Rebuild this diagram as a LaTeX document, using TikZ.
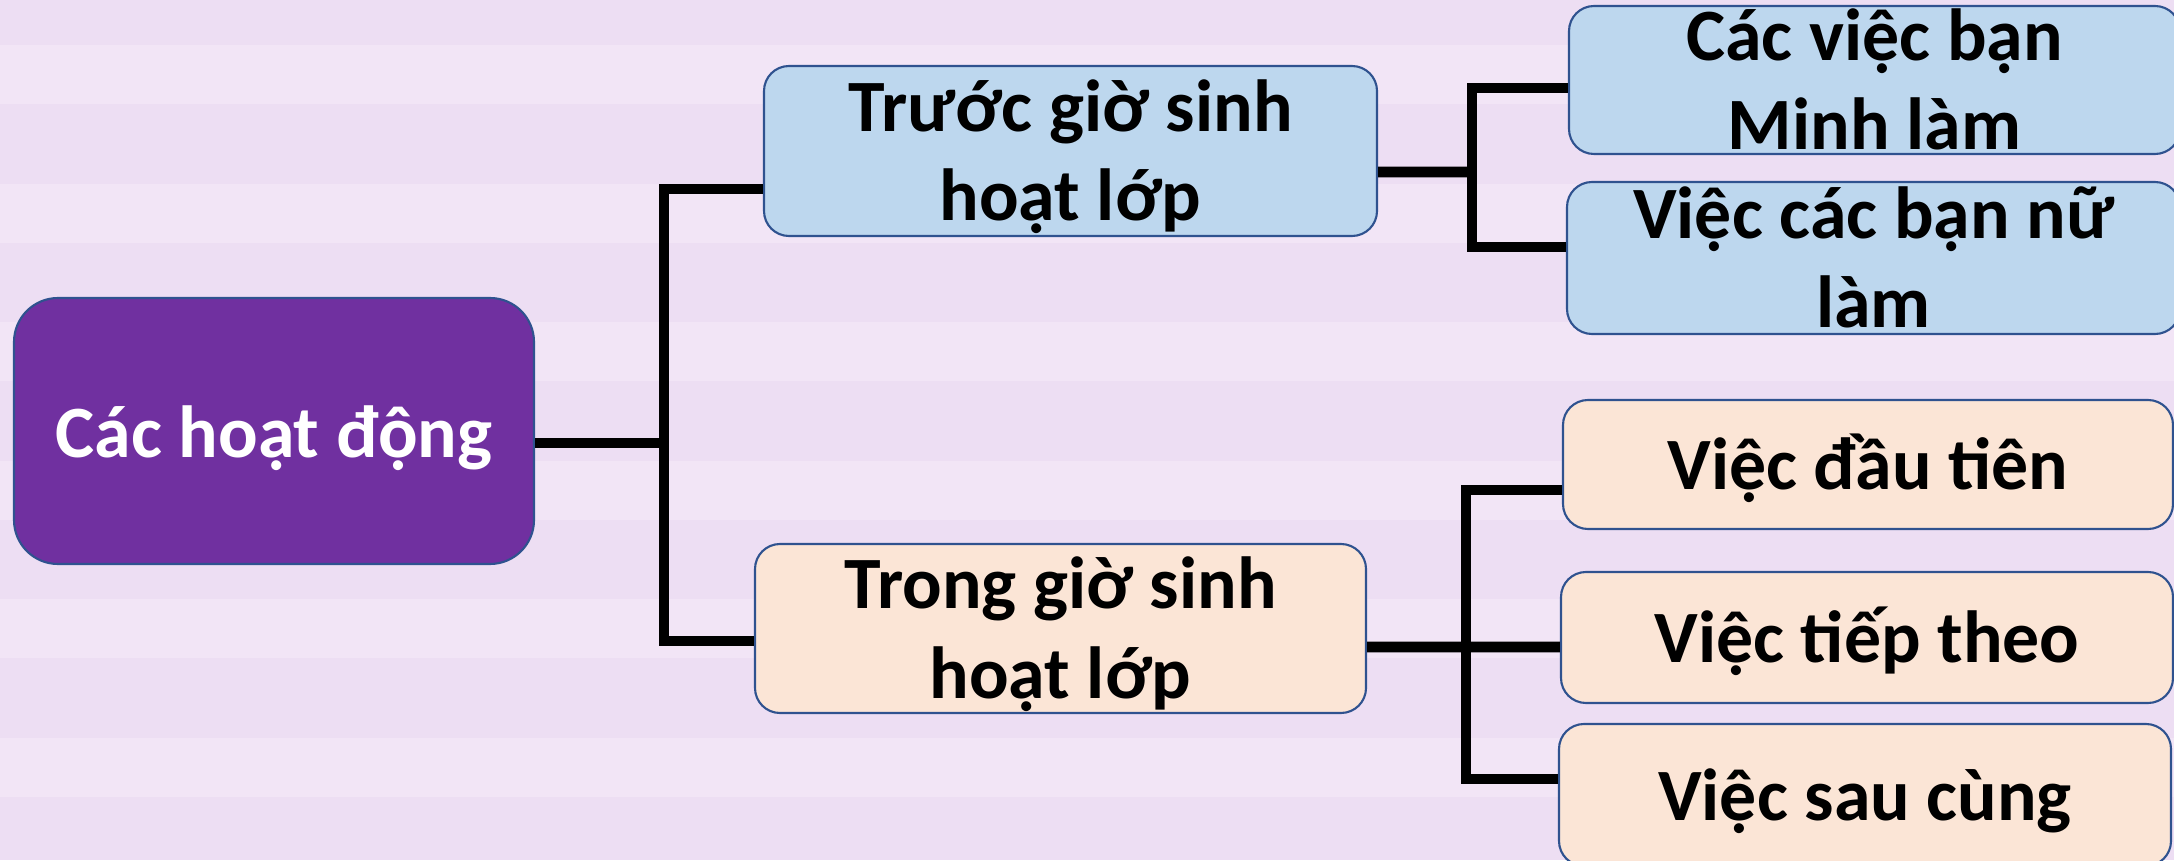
\documentclass[tikz,border=0pt]{standalone}
\usepackage{fontspec}
\setmainfont{Carlito}
\usetikzlibrary{positioning}

\definecolor{bgdark}{RGB}{237,222,243}
\definecolor{bglight}{RGB}{242,229,246}
\definecolor{rootpurple}{RGB}{112,48,160}
\definecolor{boxline}{RGB}{47,82,143}
\definecolor{boxblue}{RGB}{189,215,238}
\definecolor{boxpeach}{RGB}{251,229,214}

\begin{document}
\begin{tikzpicture}[
		bigvertex/.style={rectangle,rounded corners=0.44cm,draw=boxline,line width=0.6pt,
		fill=rootpurple,text=white,minimum width=5.2cm,minimum height=2.66cm,inner sep=0pt,
		align=center,text height=0.6cm,text depth=0.06cm,font=\bfseries\fontsize{21pt}{25.4pt}\selectfont},
		smallvertex/.style={rectangle,rounded corners=0.25cm,draw=boxline,line width=0.6pt,
		inner sep=0pt,align=center,text height=0.53cm,text depth=0.03cm,
		font=\bfseries\fontsize{21pt}{25.4pt}\selectfont},
		twoline/.style={text height=1.42cm,text depth=0.03cm},
		bluevertex/.style={smallvertex,fill=boxblue},
		peachvertex/.style={smallvertex,fill=boxpeach},
		link/.style={line width=3.1pt}
		]
		\useasboundingbox (0,0) rectangle (21.74,8.6);
		\clip (0,0) rectangle (21.74,8.6);
		% striped background
		\fill[bgdark] (0,0) rectangle (21.74,8.6);
		\foreach \k in {0,...,5}
			\fill[bglight] (0,8.15-1.386*\k) rectangle ++(21.74,-0.59);

		\node[bigvertex](root) at (2.74,4.29){Các hoạt động};
		\node[bluevertex, twoline, right of = root, xshift = 6.965cm, yshift = 2.8cm,
		minimum width=6.13cm, minimum height=1.7cm](truoc){Trước giờ sinh\\hoạt lớp};
		\node[peachvertex, twoline, right of = root, xshift = 6.865cm, yshift = -1.975cm,
		minimum width=6.11cm, minimum height=1.69cm](trong){Trong giờ sinh\\hoạt lớp};

		\node[bluevertex, twoline, right of = truoc, xshift = 7.04cm, yshift = 0.71cm,
		minimum width=6.11cm, minimum height=1.48cm](minh){Các việc bạn\\Minh làm};
		\node[bluevertex, twoline, below of = minh, xshift = -0.01cm, yshift = -0.78cm,
		minimum width=6.13cm, minimum height=1.52cm](nu){Việc các bạn nữ\\làm};

		\node[peachvertex, right of = trong, xshift = 7.075cm, yshift = 1.64cm,
		minimum width=6.1cm, minimum height=1.29cm](dau){Việc đầu tiên};
		\node[peachvertex, below of = dau, xshift = -0.01cm, yshift = -0.73cm,
		minimum width=6.12cm, minimum height=1.31cm](tiep){Việc tiếp theo};
		\node[peachvertex, below of = tiep, xshift = -0.02cm, yshift = -0.575cm,
		minimum width=6.12cm, minimum height=1.42cm](sau){Việc sau cùng};

		% joints of the tree lines
		\coordinate (j1) at (6.64,4.17);
		\coordinate (j2) at (14.72,6.88);
		\coordinate (j3) at (14.66,2.13);

		\draw[link] ([yshift=-0.12cm]root.east) -- (j1);
		\draw[link] ([yshift=-0.38cm]truoc.west) -| (j1) |- ([yshift=-0.125cm]trong.west);
		\draw[link] ([yshift=-0.21cm]truoc.east) -- (j2);
		\draw[link] ([yshift=-0.08cm]minh.west) -| (j2) |- ([yshift=0.11cm]nu.west);
		\draw[link] ([yshift=-0.185cm]trong.east) -- (j3);
		\draw[link] ([yshift=-0.255cm]dau.west) -| (j3) |- ([yshift=0.16cm]sau.west);
		\draw[link] (j3) -- ([yshift=-0.095cm]tiep.west);
	\end{tikzpicture}
\end{document}
